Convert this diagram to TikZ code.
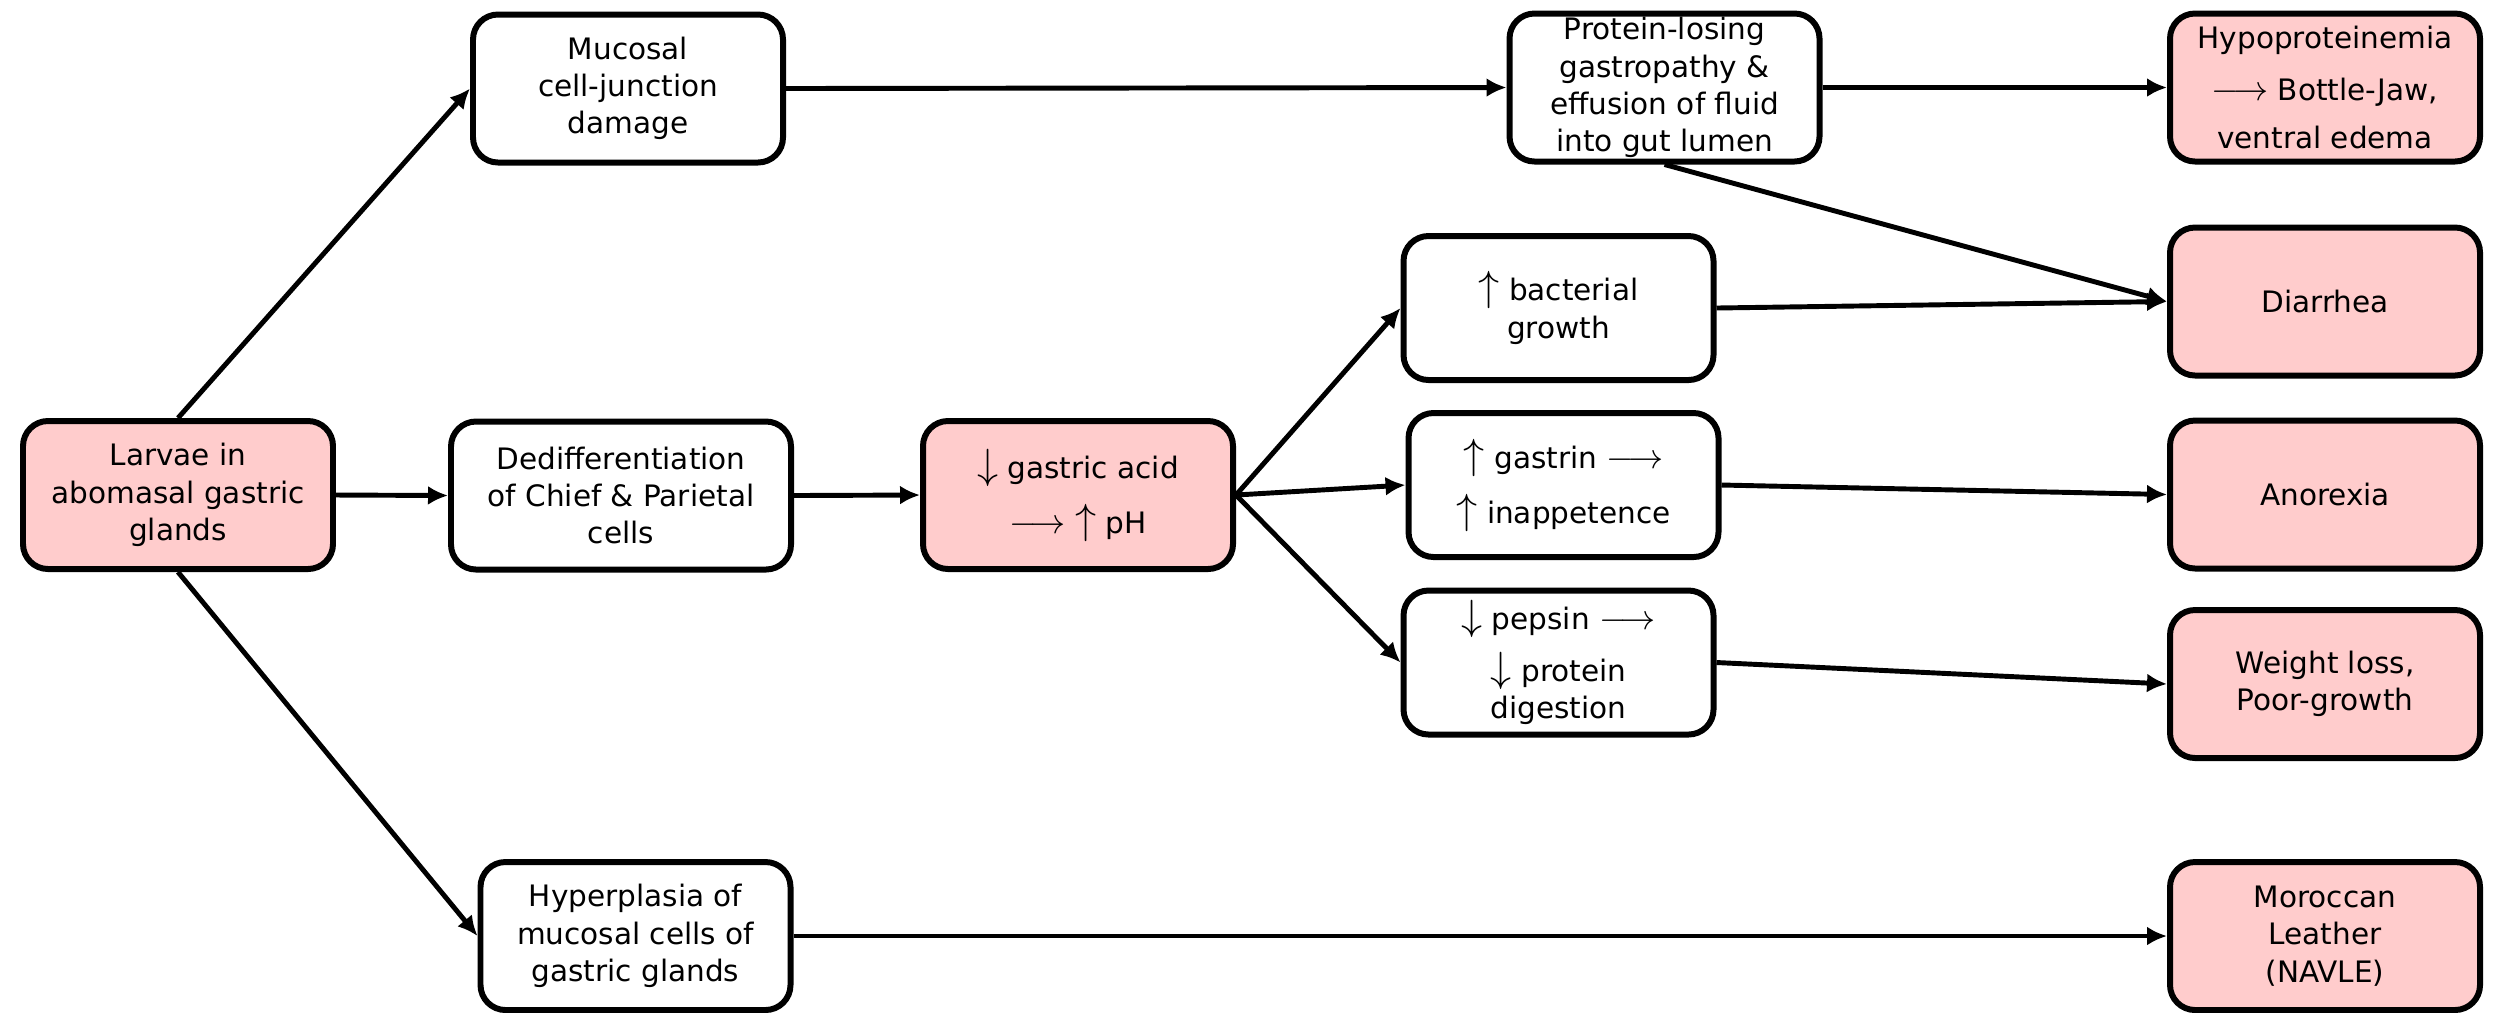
\documentclass[tikz,border=0pt]{standalone}
\usepackage{fontspec}
\setmainfont{DejaVu Sans}
\usepackage{amsmath}
\usetikzlibrary{arrows.meta}
\definecolor{lesion_pink}{HTML}{FFCCCC}
\newcommand{\incr}{{\fontsize{12}{12}\selectfont$\uparrow$}}
\newcommand{\decr}{{\fontsize{12}{12}\selectfont$\downarrow$}}
\newcommand{\leadsarrow}{{\fontsize{10}{10}\selectfont$\longrightarrow$}}

\begin{document}
\begin{tikzpicture}[
        box/.style={draw, line width=1.7pt, rounded corners=0.25cm, minimum width=3.1cm,
            minimum height=1.48cm, align=center, inner sep=1pt,
            font=\fontsize{8.4}{10.6}\selectfont},
        sign/.style={box, fill=lesion_pink},
        link/.style={line width=1.4pt, -{Latex[length=2mm, width=1.9mm]}}
    ]
    \useasboundingbox (0,0) rectangle (25.01,-10.12);

    % cause and first effects
    \node[sign] (larvae) at (1.78,-4.95) {Larvae in\\abomasal gastric\\glands};
    \node[box] (mucosal) at (6.28,-0.885) {Mucosal\\cell-junction\\damage};
    \node[box, minimum width=3.4cm] (dediff) at (6.21,-4.955) {Dedifferentiation\\of Chief \& Parietal\\cells};
    \node[box] (hyper) at (6.355,-9.36) {Hyperplasia of\\mucosal cells of\\gastric glands};

    % middle column
    \node[sign] (acid) at (10.78,-4.95) {\decr\ gastric acid\\[4pt]\leadsarrow\ \incr\ pH};
    \node[box] (protein) at (16.645,-0.875) {Protein-losing\\gastropathy \&\\effusion of fluid\\into gut lumen};
    \node[box, minimum height=1.44cm] (bact) at (15.585,-3.08) {\incr\ bacterial\\growth};
    \node[box, minimum height=1.44cm] (gastrin) at (15.635,-4.85) {\incr\ gastrin \leadsarrow\\[4pt]\incr\ inappetence};
    \node[box, minimum height=1.44cm, inner sep=0pt] (pepsin) at (15.585,-6.625) {\decr\ pepsin \leadsarrow\\[3pt]\decr\ protein\\digestion};

    % clinical signs
    \node[sign] (hypo) at (23.25,-0.875) {Hypoproteinemia\\[4pt]\leadsarrow\ Bottle-Jaw,\\[3pt]ventral edema};
    \node[sign] (diarrhea) at (23.25,-3.015) {Diarrhea};
    \node[sign] (anorexia) at (23.25,-4.945) {Anorexia};
    \node[sign] (weight) at (23.25,-6.84) {Weight loss,\\Poor-growth};
    \node[sign] (moroccan) at (23.25,-9.36) {Moroccan\\Leather\\(NAVLE)};

    \draw[link] (larvae.north) -- (mucosal.west);
    \draw[link] (larvae.east) -- (dediff.west);
    \draw[link] (larvae.south) -- (hyper.west);
    \draw[link] (dediff.east) -- (acid.west);
    \draw[link] (mucosal.east) -- (protein.west);
    \draw[link] (acid.east) -- (bact.west);
    \draw[link] (acid.east) -- (gastrin.west);
    \draw[link] (acid.east) -- (pepsin.west);
    \draw[link] (protein.east) -- (hypo.west);
    \draw[link] (protein.south) -- (diarrhea.west);
    \draw[link] (bact.east) -- (diarrhea.west);
    \draw[link] (gastrin.east) -- (anorexia.west);
    \draw[link] (pepsin.east) -- (weight.west);
    \draw[link] (hyper.east) -- (moroccan.west);
\end{tikzpicture}
\end{document}
